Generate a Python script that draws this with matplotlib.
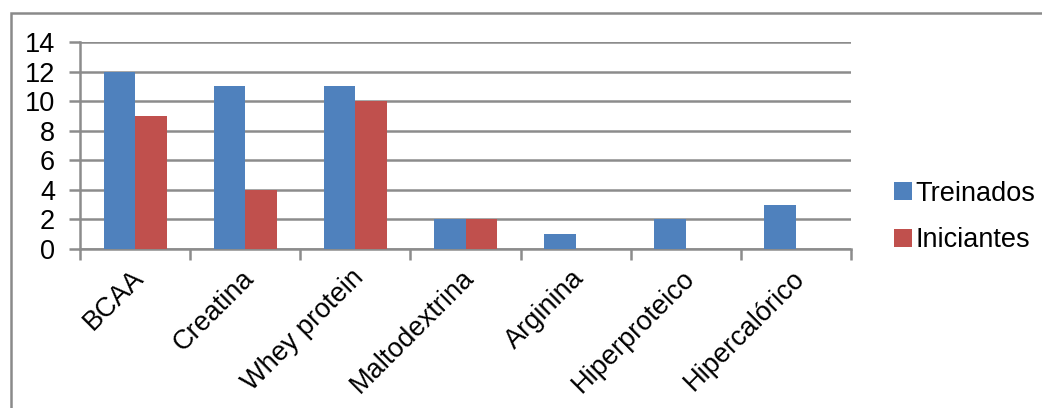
import numpy as np
import matplotlib.pyplot as plt

plt.rcParams['font.family'] = ['Liberation Sans', 'DejaVu Sans']

# Supplement use by group
categories = ['BCAA', 'Creatina', 'Whey protein', 'Maltodextrina',
              'Arginina', 'Hiperproteico', 'Hipercalórico']
treinados = [12, 11, 11, 2, 1, 2, 3]
iniciantes = [9, 4, 10, 2, 0, 0, 0]

blue = '#4F81BD'
red = '#C0504D'
grid_gray = '#8C8C8C'
fs = 19.5

fig = plt.figure(figsize=(10.42, 4.08), dpi=100)

# outer chart frame
frame = plt.Rectangle((10.5 / 1042, -0.1), 1.2, (408 - 13) / 408 + 0.1,
                      transform=fig.transFigure, fill=False,
                      edgecolor='#8A8A8A', linewidth=1.8)
fig.add_artist(frame)

ax = fig.add_axes([80 / 1042, 159 / 408, (851 - 80) / 1042, 207 / 408])

x = np.arange(len(categories))
width = 1 / 3.5
ax.bar(x - width / 2, treinados, width, color=blue, label='Treinados', zorder=3)
ax.bar(x + width / 2, iniciantes, width, color=red, label='Iniciantes', zorder=3)

ax.set_xlim(-0.5, len(categories) - 0.5)
ax.set_ylim(0, 14)
ax.set_yticks(range(0, 15, 2))
ax.yaxis.grid(True, color=grid_gray, linewidth=1.8, zorder=0)

# category boundary ticks, labels sit between them
ax.set_xticks(np.arange(-0.5, len(categories), 1))
ax.set_xticklabels([])
ax.set_xticks(x - 0.04, minor=True)
ax.set_xticklabels(categories, minor=True, rotation=45, ha='right',
                   rotation_mode='anchor', fontsize=fs)
ax.tick_params(axis='x', which='minor', length=0, pad=11.5)
ax.tick_params(axis='x', which='major', length=8, width=1.8, color=grid_gray,
               direction='out')
ax.tick_params(axis='y', length=8, width=1.8, color=grid_gray,
               labelsize=fs, pad=10)

for side in ['top', 'right']:
    ax.spines[side].set_visible(False)
for side in ['left', 'bottom']:
    ax.spines[side].set_color(grid_gray)
    ax.spines[side].set_linewidth(1.8)

handles, labels = ax.get_legend_handles_labels()
fig.legend(handles, labels, loc='center left',
           bbox_to_anchor=(894 / 1042, (408 - 217) / 408), frameon=False,
           fontsize=fs, handlelength=0.65, handleheight=0.65,
           handletextpad=0.15, labelspacing=0.75,
           borderpad=0, borderaxespad=0)

plt.savefig('out.png', dpi=100)
